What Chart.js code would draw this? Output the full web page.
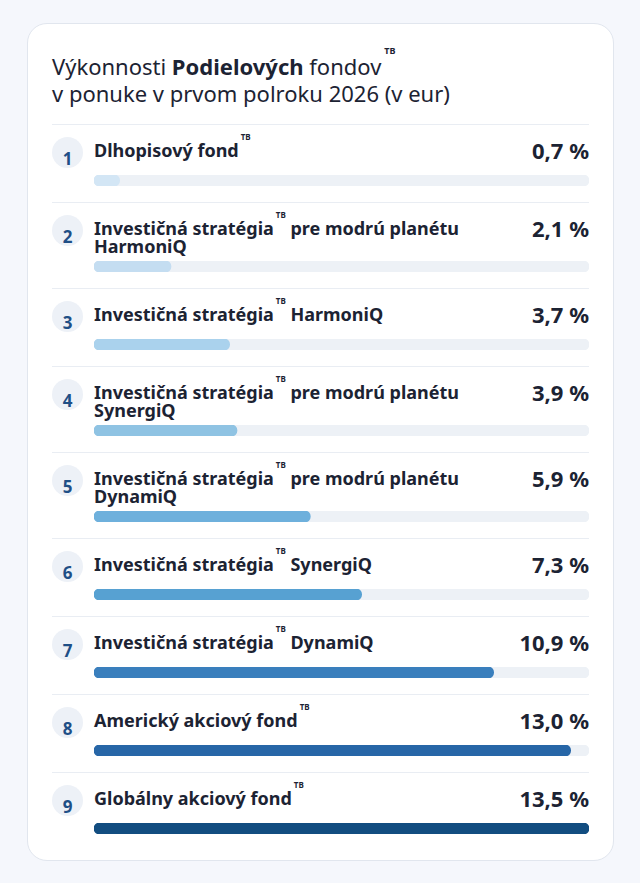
<!DOCTYPE html>
<html lang="sk">
<head>
<meta charset="utf-8">
<title>Výkonnosti Podielových fondov</title>
<script src="https://cdn.jsdelivr.net/npm/chart.js@4.4.1/dist/chart.umd.min.js"></script>
<style>
  html, body { margin: 0; padding: 0; }
  body {
    width: 640px; height: 883px;
    background: #f5f7fc;
    font-family: "Noto Sans", sans-serif;
    color: #1c2333;
    position: relative;
  }
  .card {
    position: absolute; left: 27px; top: 23px;
    width: 587px; height: 838px;
    box-sizing: border-box;
    background: #fff;
    border: 1px solid #e1e6ee;
    border-radius: 20px;
    padding: 29px 24px 0 24px;
  }
  h1 {
    margin: 0 0 17px 0;
    font-size: 22px; line-height: 27px; font-weight: 400;
  }
  h1 b { font-weight: 700; }
  sup {
    font-size: 8px; font-weight: 700; line-height: 0;
    vertical-align: baseline; position: relative;
    margin-left: 2px;
  }
  h1 sup { font-size: 9px; top: -21px; margin-left: 3px; }
  .row { border-top: 1px solid #e9edf3; padding-bottom: 16px; }
  .head { display: flex; align-items: flex-start; }
  .num {
    width: 31px; height: 31px; margin-top: 12px; flex: none;
    border-radius: 50%; background: #edf1f7;
    color: #1f4f86; font-weight: 700; font-size: 17px;
    text-align: center; line-height: 43px;
  }
  .label {
    flex: 1; margin: 16px 16px 0 11px;
    font-size: 18px; line-height: 18px; font-weight: 700;
  }
  .label sup { top: -17px; }
  .value {
    margin-top: 7px; flex: none;
    font-size: 22px; line-height: 37px; font-weight: 700;
  }
  .bar { position: relative; margin: 6px 0 0 42px; height: 11px; }
</style>
</head>
<body>
<div class="card">
  <h1>Výkonnosti <b>Podielových</b> fondov<sup>TB</sup><br>v ponuke v prvom polroku 2026 (v eur)</h1>
  <div id="rows"></div>
</div>
<script>
// ^ marks where the TB superscript goes
const fundNames = [
  'Dlhopisový fond^',
  'Investičná stratégia^ pre modrú planétu HarmoniQ',
  'Investičná stratégia^ HarmoniQ',
  'Investičná stratégia^ pre modrú planétu SynergiQ',
  'Investičná stratégia^ pre modrú planétu DynamiQ',
  'Investičná stratégia^ SynergiQ',
  'Investičná stratégia^ DynamiQ',
  'Americký akciový fond^',
  'Globálny akciový fond^'
];
const fundValues = [0.7, 2.1, 3.7, 3.9, 5.9, 7.3, 10.9, 13.0, 13.5];
const barColors = ['#d3e6f5', '#c4ddf1', '#aad2ed', '#8fc3e3', '#6eb0dc', '#57a1d2', '#3a7fbd', '#2766a7', '#124d80'];
const trackColor = '#edf1f6';

var scaleMax = Math.max.apply(null, fundValues);
var rows = document.getElementById('rows');

fundNames.forEach(function (name, i) {
  var row = document.createElement('div');
  row.className = 'row';
  row.innerHTML =
    '<div class="head">' +
      '<div class="num">' + (i + 1) + '</div>' +
      '<div class="label">' + name.replace('^', '<sup>TB</sup>') + '</div>' +
      '<div class="value">' + fundValues[i].toFixed(1).replace('.', ',') + ' %</div>' +
    '</div>' +
    '<div class="bar"><canvas></canvas></div>';
  rows.appendChild(row);

  var ctx = row.querySelector('canvas').getContext('2d');
  new Chart(ctx, {
    type: 'bar',
    data: {
      labels: [name.replace('^', '')],
      datasets: [
        {
          data: [fundValues[i]],
          backgroundColor: barColors[i],
          borderRadius: 6, borderSkipped: false,
          barPercentage: 1, categoryPercentage: 1, grouped: false
        },
        {
          data: [scaleMax],
          backgroundColor: trackColor,
          borderRadius: 6, borderSkipped: false,
          barPercentage: 1, categoryPercentage: 1, grouped: false
        }
      ]
    },
    options: {
      indexAxis: 'y',
      responsive: true,
      maintainAspectRatio: false,
      animation: false,
      events: [],
      layout: { padding: 0 },
      scales: {
        x: { display: false, min: 0, max: scaleMax },
        y: { display: false }
      },
      plugins: { legend: { display: false }, tooltip: { enabled: false } }
    }
  });
});
</script>
</body>
</html>
